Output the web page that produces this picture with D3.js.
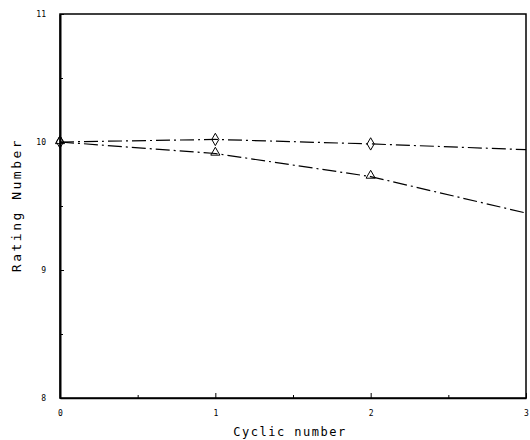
<!DOCTYPE html>
<html><head><meta charset="utf-8">
<script src="https://cdn.jsdelivr.net/npm/d3@7"></script>
<style>body{margin:0;background:#fff}svg{display:block}</style>
</head><body>
<script>
const cycles = [0, 1, 2, 3];
const markerCycles = [0, 1, 2];
const seriesDiamond = [10.0, 10.02, 9.985, 9.94];
const seriesTriangle = [10.0, 9.91, 9.73, 9.445];
const xTicks = [0, 1, 2, 3];
const yTicks = [8, 9, 10, 11];
const xMinor = [0.5, 1.5, 2.5];
const yMinor = [8.5, 9.5, 10.5];

const W = 530, H = 440;
const svg = d3.select("body").append("svg").attr("width", W).attr("height", H);
const x = d3.scaleLinear().domain([0, 3]).range([60, 526]);
const y = d3.scaleLinear().domain([8, 11]).range([398, 14]);

const font = "'DejaVu Sans Mono', monospace";

// frame
svg.append("rect").attr("x", x(0)).attr("y", y(11)).attr("width", x(3) - x(0)).attr("height", y(8) - y(11))
  .attr("fill", "none").attr("stroke", "#000").attr("stroke-width", 1.5);

// x axis
const xAxis = d3.axisBottom(x).tickValues(xTicks).tickSizeInner(-5).tickSizeOuter(0).tickFormat(d3.format("d")).tickPadding(12);
const gx = svg.append("g").attr("transform", `translate(0,${y(8)})`).call(xAxis);
gx.select(".domain").attr("stroke-width", 1.5);
gx.selectAll("text").attr("font-family", font).attr("font-size", 8).attr("fill", "#000");
svg.append("g").attr("transform", `translate(0,${y(8)})`)
  .call(d3.axisBottom(x).tickValues(xMinor).tickSizeInner(-3).tickSizeOuter(0).tickFormat(""))
  .select(".domain").remove();

// y axis
const yAxis = d3.axisLeft(y).tickValues(yTicks).tickSizeInner(-4).tickSizeOuter(0).tickFormat(d3.format("d")).tickPadding(14);
const gy = svg.append("g").attr("transform", `translate(${x(0)},0)`).call(yAxis);
gy.select(".domain").attr("stroke-width", 2);
gy.selectAll("text").attr("font-family", font).attr("font-size", 8).attr("fill", "#000");
svg.append("g").attr("transform", `translate(${x(0)},0)`)
  .call(d3.axisLeft(y).tickValues(yMinor).tickSizeInner(-3).tickSizeOuter(0).tickFormat(""))
  .select(".domain").remove();

// lines
const line = d3.line().x((d, i) => x(cycles[i])).y(d => y(d));
[seriesDiamond, seriesTriangle].forEach(s => {
  svg.append("path").datum(s).attr("d", line).attr("fill", "none")
    .attr("stroke", "#000").attr("stroke-width", 1.2).attr("stroke-dasharray", "14,4,2,4");
});

// markers
const diamond = d3.symbol().type(d3.symbolDiamond).size(44);
const tri = d3.symbol().type(d3.symbolTriangle).size(36);
svg.append("g").selectAll("path").data(markerCycles).join("path")
  .attr("transform", d => `translate(${x(d)},${y(seriesDiamond[d])})`)
  .attr("d", diamond).attr("fill", "none").attr("stroke", "#000").attr("stroke-width", 1);
svg.append("g").selectAll("path").data(markerCycles).join("path")
  .attr("transform", d => `translate(${x(d)},${y(seriesTriangle[d]) - 1})`)
  .attr("d", tri).attr("fill", "none").attr("stroke", "#000").attr("stroke-width", 1);

// axis titles
svg.append("text").attr("x", 290).attr("y", 436).attr("text-anchor", "middle")
  .attr("font-family", font).attr("font-size", 12).attr("letter-spacing", 1.5).text("Cyclic number");
svg.append("text").attr("transform", "translate(21,205) rotate(-90)").attr("text-anchor", "middle")
  .attr("font-family", font).attr("font-size", 13).attr("letter-spacing", 2.5).text("Rating Number");
</script>
</body></html>
